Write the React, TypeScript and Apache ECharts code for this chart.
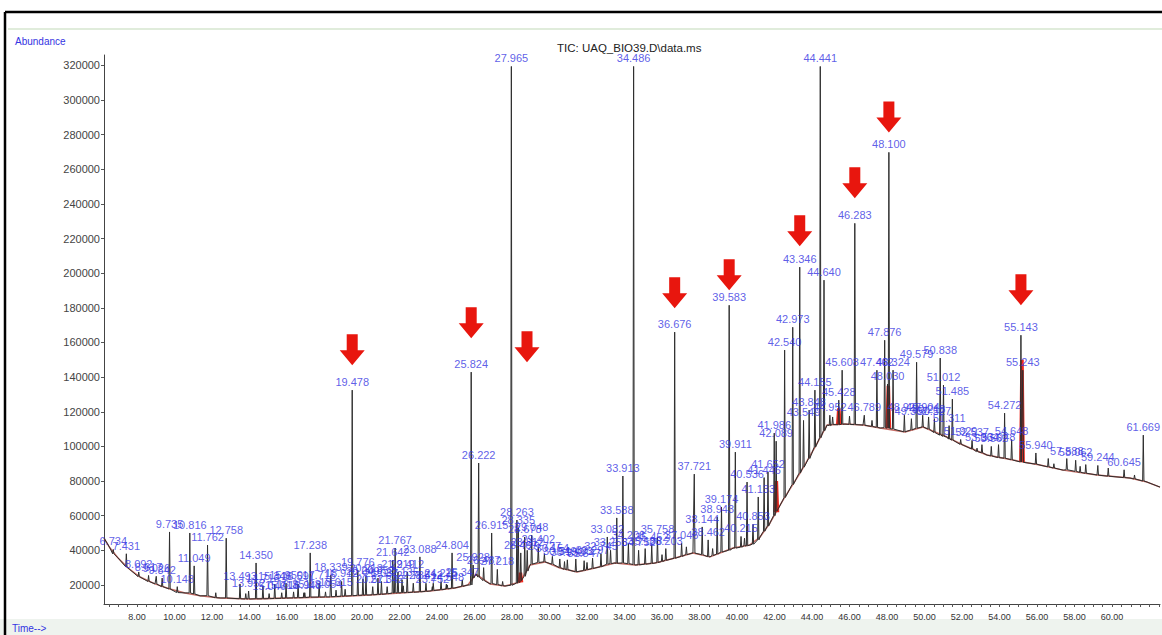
import React, { useEffect, useRef } from "react";
import * as echarts from "echarts";

const X_MIN = 6.24;
const X_MAX = 62.56;
const Y_MIN = 9000;
const Y_MAX = 326000;

const X_TICK_LABELS = [8, 10, 12, 14, 16, 18, 20, 22, 24, 26, 28, 30, 32, 34, 36, 38, 40, 42, 44, 46, 48, 50, 52, 54, 56, 58, 60];
const Y_TICK_LABELS = [20000, 40000, 60000, 80000, 100000, 120000, 140000, 160000, 180000, 200000, 220000, 240000, 260000, 280000, 300000, 320000];

// lower envelope of the chromatogram [time, abundance]
const BASELINE: number[][] = [
  [6.24, 47100], [6.56, 41300], [6.99, 35600], [7.52, 29800], [8.16, 24600], [8.96, 20600],
  [9.76, 17700], [10.56, 15400], [11.36, 13700], [12.43, 12500], [14.03, 11900], [16.16, 12500],
  [18.29, 13100], [20.43, 14200], [22.03, 15400], [23.63, 16500], [24.96, 18300], [25.65, 20000],
  [26.08, 26300], [26.83, 20600], [27.63, 19400], [28.43, 21700], [28.96, 31500], [29.76, 33300],
  [30.56, 29800], [31.47, 27500], [32.43, 29800], [33.49, 32700], [34.56, 31500], [35.63, 32700],
  [36.69, 35600], [37.65, 38500], [38.56, 36200], [39.79, 41300], [40.69, 43100], [41.23, 47700],
  [41.76, 55800], [42.45, 69000], [43.36, 84600], [44.16, 99600], [44.8, 112300], [45.76, 112900],
  [46.72, 112300], [47.63, 110600], [48.96, 108300], [49.92, 111200], [51.2, 105400], [52.05, 100800],
  [53.33, 95000], [54.72, 92100], [56.16, 89200], [57.39, 86300], [59.2, 83500], [60.96, 81700],
  [61.87, 79400], [62.56, 76500],
];

// labelled peaks [time, apex, base, label]
const PEAKS: [number, number, number, string][] = [
  [6.734, 40500, 38000, "6.734"],
  [7.431, 38000, 30500, "7.431"],
  [8.092, 27500, 24800, "8.092"],
  [8.617, 25500, 22000, "8.617"],
  [9.026, 25000, 20500, "9.026"],
  [9.342, 24000, 19000, "9.342"],
  [9.735, 50600, 17700, "9.735"],
  [10.148, 19000, 15600, "10.148"],
  [10.816, 50000, 15400, "10.816"],
  [11.049, 31000, 14800, "11.049"],
  [11.762, 43000, 13800, "11.762"],
  [12.758, 47000, 12500, "12.758"],
  [13.493, 20600, 12000, "13.493"],
  [13.952, 16500, 11900, "13.952"],
  [14.35, 32700, 12000, "14.350"],
  [14.716, 19500, 12000, "14.716"],
  [15.046, 15000, 12100, "15.046"],
  [15.346, 20500, 12200, "15.346"],
  [15.718, 15500, 12300, "15.718"],
  [15.95, 21000, 12400, "15.950"],
  [16.351, 16000, 12500, "16.351"],
  [16.591, 20500, 12600, "16.591"],
  [16.948, 15500, 12700, "16.948"],
  [17.238, 38500, 13000, "17.238"],
  [17.715, 21000, 13000, "17.715"],
  [18.054, 16000, 13100, "18.054"],
  [18.339, 25800, 13200, "18.339"],
  [18.615, 17000, 13300, "18.615"],
  [18.912, 22000, 13500, "18.912"],
  [19.478, 132500, 13800, "19.478"],
  [19.776, 28600, 14000, "19.776"],
  [20.049, 23500, 14100, "20.049"],
  [20.213, 25000, 14200, "20.213"],
  [20.571, 19000, 14300, "20.571"],
  [20.852, 24000, 14500, "20.852"],
  [21.037, 22000, 14600, "21.037"],
  [21.342, 19000, 14900, "21.342"],
  [21.642, 34400, 15300, "21.642"],
  [21.767, 41300, 15400, "21.767"],
  [21.919, 27500, 15400, "21.919"],
  [22.135, 23000, 15500, "22.135"],
  [22.412, 27500, 15600, "22.412"],
  [22.735, 21000, 15800, "22.735"],
  [23.088, 36200, 16000, "23.088"],
  [23.412, 21000, 16300, "23.412"],
  [23.752, 19000, 16700, "23.752"],
  [24.215, 22000, 17200, "24.215"],
  [24.548, 20000, 17700, "24.548"],
  [24.804, 38500, 18100, "24.804"],
  [25.347, 23000, 19200, "25.347"],
  [25.824, 142900, 20000, "25.824"],
  [25.928, 31500, 24000, "25.928"],
  [26.222, 90400, 24500, "26.222"],
  [26.487, 30000, 22500, "26.487"],
  [26.915, 50000, 20800, "26.915"],
  [27.218, 29000, 20200, "27.218"],
  [27.965, 319400, 19800, "27.965"],
  [28.263, 57500, 21000, "28.263"],
  [28.335, 52900, 21500, "28.335"],
  [28.467, 38500, 22500, "28.467"],
  [28.678, 47700, 25000, "28.678"],
  [28.812, 40000, 28000, "28.812"],
  [29.048, 48800, 32000, "29.048"],
  [29.402, 42000, 33000, "29.402"],
  [29.727, 38000, 33300, "29.727"],
  [30.154, 36500, 32000, "30.154"],
  [30.549, 35000, 30000, "30.549"],
  [30.952, 34500, 28800, "30.952"],
  [31.403, 35000, 27600, "31.403"],
  [31.847, 34000, 28300, "31.847"],
  [32.297, 35500, 29500, "32.297"],
  [32.745, 38000, 30500, "32.745"],
  [33.082, 47700, 32000, "33.082"],
  [33.256, 40000, 32300, "33.256"],
  [33.588, 58700, 32500, "33.588"],
  [33.913, 82900, 32700, "33.913"],
  [34.208, 44000, 32300, "34.208"],
  [34.486, 319400, 31800, "34.486"],
  [34.752, 40000, 31600, "34.752"],
  [35.103, 41000, 32000, "35.103"],
  [35.452, 43000, 32400, "35.452"],
  [35.758, 47700, 32900, "35.758"],
  [36.203, 41000, 34200, "36.203"],
  [36.676, 166000, 35400, "36.676"],
  [37.046, 44000, 36500, "37.046"],
  [37.721, 84000, 38400, "37.721"],
  [38.144, 53500, 37500, "38.144"],
  [38.462, 46000, 36300, "38.462"],
  [38.943, 59200, 37800, "38.943"],
  [39.174, 65000, 39000, "39.174"],
  [39.583, 181500, 40000, "39.583"],
  [39.911, 96700, 41300, "39.911"],
  [40.215, 48000, 41800, "40.215"],
  [40.536, 79400, 42600, "40.536"],
  [40.853, 55000, 43500, "40.853"],
  [41.133, 70800, 46000, "41.133"],
  [41.446, 82000, 51000, "41.446"],
  [41.652, 85200, 54000, "41.652"],
  [41.986, 107700, 60000, "41.986"],
  [42.089, 103000, 62500, "42.089"],
  [42.54, 155600, 70500, "42.540"],
  [42.973, 168800, 78000, "42.973"],
  [43.346, 203500, 84600, "43.346"],
  [43.549, 115000, 88000, "43.549"],
  [43.848, 121000, 93000, "43.848"],
  [44.155, 132500, 99600, "44.155"],
  [44.441, 319400, 105000, "44.441"],
  [44.64, 196000, 109000, "44.640"],
  [44.952, 118000, 112000, "44.952"],
  [45.428, 126700, 112500, "45.428"],
  [45.608, 144000, 112800, "45.608"],
  [46.283, 228800, 112600, "46.283"],
  [46.789, 118000, 112200, "46.789"],
  [47.462, 144000, 111000, "47.462"],
  [47.876, 161300, 110800, "47.876"],
  [48.03, 136000, 110500, "48.030"],
  [48.1, 269800, 110400, "48.100"],
  [48.324, 144000, 110000, "48.324"],
  [48.927, 118000, 108400, "48.927"],
  [49.302, 116000, 109500, "49.302"],
  [49.579, 148600, 110500, "49.579"],
  [49.904, 118000, 111200, "49.904"],
  [50.218, 117000, 110000, "50.218"],
  [50.527, 116000, 108000, "50.527"],
  [50.838, 151000, 106500, "50.838"],
  [51.012, 135400, 105800, "51.012"],
  [51.311, 112000, 104200, "51.311"],
  [51.485, 127300, 103600, "51.485"],
  [51.929, 104000, 101200, "51.929"],
  [52.537, 103500, 98500, "52.537"],
  [53.064, 101000, 96300, "53.064"],
  [53.562, 100000, 94500, "53.562"],
  [53.948, 101000, 93500, "53.948"],
  [54.272, 119200, 93200, "54.272"],
  [54.648, 104000, 92300, "54.648"],
  [55.143, 164200, 91000, "55.143"],
  [55.243, 144000, 90800, "55.243"],
  [55.94, 96200, 89800, "55.940"],
  [57.588, 93000, 86500, "57.588"],
  [58.062, 92000, 85600, "58.062"],
  [59.244, 89000, 83400, "59.244"],
  [60.645, 86500, 82000, "60.645"],
  [61.669, 106500, 80000, "61.669"],
];

// unlabelled small peaks [time, apex, base]
const MINOR_PEAKS: number[][] = [
  [12.2, 15500, 12600], [13.8, 15000, 11900], [16.9, 15500, 12700], [19.1, 17500, 13600],
  [22.2, 19500, 15500], [23.8, 21000, 16800], [24.5, 20500, 17600], [27.5, 22000, 19500],
  [30.8, 33500, 29000], [32.0, 33000, 28800], [36.0, 37500, 33500], [37.3, 42000, 37500],
  [38.7, 41000, 37000], [40.4, 47000, 42500], [45.1, 117000, 112600], [46.0, 117500, 112700],
  [47.2, 115000, 111500], [52.8, 99000, 97000], [56.6, 93000, 88200], [56.9, 90000, 87500],
  [58.3, 88500, 85000], [58.6, 89500, 84500], [59.8, 87500, 82800], [61.2, 83500, 81200],
];

// integrated (red-shaded) peaks [time, apex, base]
const RED_PEAKS: number[][] = [
  [28.45, 27000, 21500], [42.1, 80000, 62000], [45.43, 122000, 112500], [48.07, 135000, 110500], [55.2, 150000, 91000],
];

// red arrows [time, tip abundance]
const ARROWS: number[][] = [
  [19.478, 146900], [25.824, 162500], [27.965, 331500], [28.8, 148600], [34.486, 331500],
  [36.676, 179800], [39.583, 190200], [43.346, 215600], [44.441, 331500], [46.283, 243300],
  [48.1, 281300], [55.143, 181500],
];

const HALF = 0.035;
const FONT = "'Liberation Sans', Arial, sans-serif";
const BLUE = "#3434e2";

function buildTrace(): number[][] {
  const peaks = [...PEAKS.map((p) => [p[0], p[1], p[2]]), ...MINOR_PEAKS];
  const pts: number[][] = [];
  BASELINE.forEach((b) => {
    if (!peaks.some((p) => Math.abs(p[0] - b[0]) < HALF)) pts.push([b[0], b[1]]);
  });
  peaks.forEach((p) => {
    pts.push([p[0] - HALF, p[2]]);
    pts.push([p[0], p[1]]);
    pts.push([p[0] + HALF, p[2]]);
  });
  pts.sort((a, b) => a[0] - b[0]);
  return pts;
}

function buildRed(): (number[] | null)[] {
  const out: (number[] | null)[] = [];
  RED_PEAKS.forEach((p) => {
    out.push([p[0] - 0.06, p[2]]);
    out.push([p[0], p[1]]);
    out.push([p[0] + 0.06, p[2]]);
    out.push(null as any);
  });
  return out;
}

function minorTicks(): number[] {
  const arr: number[] = [];
  for (let v = 6.5; v <= 62.5; v += 0.5) arr.push(Math.round(v * 10) / 10);
  return arr;
}

export default function App() {
  const ref = useRef<HTMLDivElement>(null);
  useEffect(() => {
    document.body.style.margin = "0";
    const chart = echarts.init(ref.current!, null, { renderer: "svg" });
    const option: any = {
      animation: false,
      backgroundColor: "#ffffff",
      grid: { left: 104, right: 2, top: 55, bottom: 31 },
      xAxis: {
        type: "value",
        min: X_MIN,
        max: X_MAX,
        splitLine: { show: false },
        axisLine: { lineStyle: { color: "#444", width: 1 } },
        axisTick: { customValues: minorTicks(), length: 3, lineStyle: { color: "#555" } },
        axisLabel: {
          customValues: X_TICK_LABELS,
          formatter: (v: number) => v.toFixed(2),
          fontSize: 9,
          color: "#333",
          fontFamily: FONT,
          margin: 8,
        },
      },
      yAxis: {
        type: "value",
        min: Y_MIN,
        max: Y_MAX,
        splitLine: { show: false },
        axisLine: { show: true, lineStyle: { color: "#444", width: 1 } },
        axisTick: { show: true, customValues: Y_TICK_LABELS, length: 3, lineStyle: { color: "#555" } },
        axisLabel: {
          customValues: Y_TICK_LABELS,
          formatter: (v: number) => String(v),
          fontSize: 11,
          color: "#444",
          fontFamily: FONT,
          margin: 4,
        },
      },
      graphic: [
        { type: "rect", shape: { x: 0, y: 619, width: 1162, height: 16 }, style: { fill: "#eef3ee" }, silent: true, z: -10 },
        { type: "line", shape: { x1: 8, y1: 29, x2: 1162, y2: 29 }, style: { stroke: "#d6e6cf", lineWidth: 1.5 }, silent: true },
        { type: "line", shape: { x1: 5, y1: 12, x2: 1162, y2: 12 }, style: { stroke: "#000", lineWidth: 2.5 }, silent: true },
        { type: "line", shape: { x1: 5, y1: 12, x2: 5, y2: 635 }, style: { stroke: "#000", lineWidth: 2.5 }, silent: true },
        { type: "text", x: 15, y: 36, style: { text: "Abundance", fill: BLUE, font: `10px ${FONT}` }, silent: true },
        { type: "text", x: 12, y: 623, style: { text: "Time-->", fill: BLUE, font: `10px ${FONT}` }, silent: true },
        { type: "text", x: 557, y: 42, style: { text: "TIC: UAQ_BIO39.D\\data.ms", fill: "#222", font: `11.5px ${FONT}` }, silent: true },
      ],
      series: [
        {
          type: "line",
          data: BASELINE,
          symbol: "none",
          lineStyle: { color: "#b8463c", width: 1.5, opacity: 0.8 },
          z: 1,
        },
        {
          type: "line",
          data: buildRed(),
          symbol: "none",
          connectNulls: false,
          lineStyle: { color: "#ee2a20", width: 3.5 },
          z: 1,
        },
        {
          type: "line",
          data: buildTrace(),
          symbol: "none",
          lineStyle: { color: "#2e2e2e", width: 1 },
          z: 2,
        },
        {
          type: "scatter",
          data: PEAKS.map((p) => ({ value: [p[0], p[1]], name: p[3] })),
          symbolSize: 1,
          itemStyle: { color: "rgba(0,0,0,0)" },
          label: {
            show: true,
            position: "top",
            distance: 2,
            formatter: "{b}",
            color: BLUE,
            fontSize: 11,
            fontFamily: FONT,
          },
          z: 3,
          markPoint: {
            symbol: "path://M7,0L18,0L18,16L25,16L12.5,31L0,16L7,16Z",
            symbolSize: [25, 31],
            symbolOffset: [0, -15.5],
            itemStyle: { color: "#e8160e" },
            label: { show: false },
            data: ARROWS.map((a) => ({ coord: [a[0], a[1]] })),
          },
        },
      ],
    };
    chart.setOption(option);
    return () => chart.dispose();
  }, []);
  return (
    <div
      ref={ref}
      style={{ position: "fixed", left: 0, top: 0, width: 1162, height: 635, background: "#fff" }}
    />
  );
}
